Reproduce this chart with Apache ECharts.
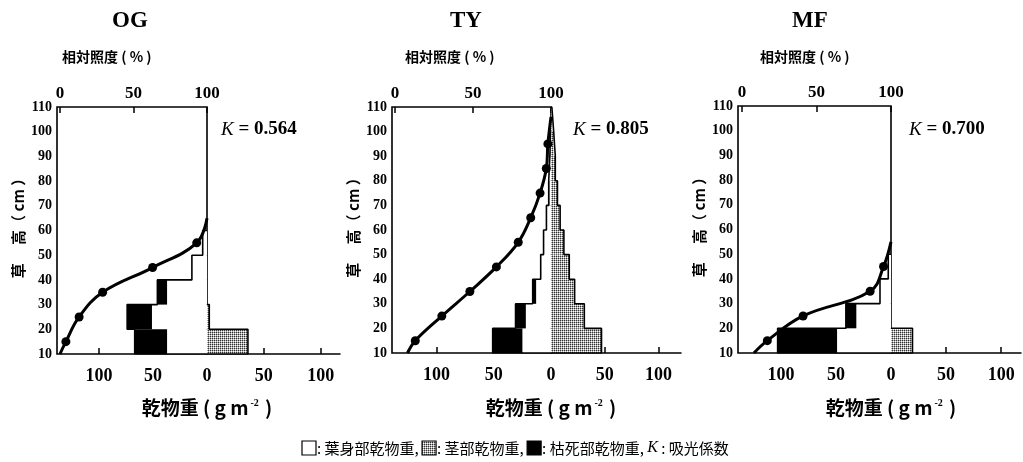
<!DOCTYPE html>
<html><head><meta charset="utf-8">
<script src="https://cdn.jsdelivr.net/npm/echarts@6/dist/echarts.min.js"></script>
<style>html,body{margin:0;padding:0;background:#fff}#c{width:1023px;height:462px}</style>
</head><body><div id="c"></div>
<script>
// ---------------- DATA ----------------
const layerBottom = [10, 20, 30, 40, 50, 60, 70, 80, 90, 100];   // cm
const layerTop    = [20, 30, 40, 50, 60, 70, 80, 90, 100, 110];  // cm
const layerNames  = ['10-20','20-30','30-40','40-50','50-60','60-70','70-80','80-90','90-100','100-110'];
const heightTicks = [10, 20, 30, 40, 50, 60, 70, 80, 90, 100, 110];
const weightTicks = [0, 50, 100];
const lightTicks  = [0, 50, 100];

const panelNames = ['OG', 'TY', 'MF'];
const kValues    = ['0.564', '0.805', '0.700'];

// OG (g m-2 per 10 cm layer)
const ogLeaf = [37, 51, 37, 14, 4, 0, 0, 0, 0, 0];
const ogDead = [30, 23, 9, 0, 0, 0, 0, 0, 0, 0];
const ogStem = [36, 2, 0, 0, 0, 0, 0, 0, 0, 0];
const ogLightPct = [0, 4, 13, 29, 63, 93, 100];
const ogLightCm  = [10, 15, 25, 35, 45, 55, 65];
const ogLightMeasured = [0, 1, 1, 1, 1, 1, 0];

// TY
const tyLeaf = [25, 22, 13, 9, 6.5, 4, 1.5, 1, 0.5, 0];
const tyDead = [26, 9, 3, 0, 0, 0, 0.5, 0, 0, 0];
const tyStem = [47, 31, 22, 17, 12, 8.5, 6, 4, 2.5, 0.8];
const tyLightPct = [8, 13, 30, 48, 65, 79, 87, 93, 97, 98, 100];
const tyLightCm  = [10, 15, 25, 35, 45, 55, 65, 75, 85, 95, 106];
const tyLightMeasured = [0, 1, 1, 1, 1, 1, 1, 1, 1, 1, 0];

// MF
const mfLeaf = [49, 31.5, 10, 2.5, 0, 0, 0, 0, 0, 0];
const mfDead = [54, 9.5, 0, 0, 0, 0, 0, 0, 0, 0];
const mfStem = [19.5, 0, 0, 0, 0, 0, 0, 0, 0, 0];
const mfLightPct = [8, 17, 41, 86, 95, 100];
const mfLightCm  = [10, 15, 25, 35, 45, 55];
const mfLightMeasured = [0, 1, 1, 1, 1, 0];

const PANEL_DATA = [
  {leaf: ogLeaf, dead: ogDead, stem: ogStem, pct: ogLightPct, cm: ogLightCm, meas: ogLightMeasured},
  {leaf: tyLeaf, dead: tyDead, stem: tyStem, pct: tyLightPct, cm: tyLightCm, meas: tyLightMeasured},
  {leaf: mfLeaf, dead: mfDead, stem: mfStem, pct: mfLightPct, cm: mfLightCm, meas: mfLightMeasured}
];

// ---------------- LAYOUT ----------------
const LAYOUT = [
  {boxLeft: 57,  zero: 207, end: 340,  top: 107, bottom: 354, leftMax: 139, rightMax: 117, light0: 60,  titleX: 130, lblX: 62,  kX: 221, nameX: 207},
  {boxLeft: 392, zero: 551, end: 681,  top: 107, bottom: 353, leftMax: 139, rightMax: 121, light0: 395, titleX: 466, lblX: 405, kX: 573, nameX: 551},
  {boxLeft: 738, zero: 891, end: 1021, top: 106, bottom: 353, leftMax: 139, rightMax: 118, light0: 742, titleX: 810, lblX: 760, kX: 909, nameX: 891}
];

const SERIF = '"Liberation Serif","Times New Roman",serif';
const CJK = '"Noto Sans CJK JP","Noto Sans CJK SC",sans-serif';

// stipple pattern for stem
const pat = document.createElement('canvas');
pat.width = 2; pat.height = 2;
(function () {
  const c = pat.getContext('2d');
  c.fillStyle = '#fff'; c.fillRect(0, 0, 2, 2);
  c.fillStyle = '#333'; c.fillRect(0, 0, 1, 1);
  c.fillStyle = '#aaa'; c.fillRect(1, 0, 1, 1); c.fillRect(0, 1, 1, 1);
})();
const stemFill = {image: pat, repeat: 'repeat'};

function outline(vals) {
  let last = vals.length - 1;
  while (last >= 0 && !(vals[last] > 0)) last--;
  const pts = [[0, layerBottom[0]]];
  for (let k = 0; k <= last; k++) {
    pts.push([vals[k], layerBottom[k]]);
    pts.push([vals[k], layerTop[k]]);
  }
  pts.push([0, layerTop[Math.max(last, 0)]]);
  return pts;
}
function sumArr(a, b) { return a.map((v, i) => v + b[i]); }

const grids = [], xAxes = [], yAxes = [], series = [], graphics = [];
const tickStyle = {color: '#000', width: 1.5};

panelNames.forEach((name, i) => {
  const L = LAYOUT[i], D = PANEL_DATA[i];
  const h = L.bottom - L.top;
  const gL = grids.length;
  grids.push({left: L.boxLeft, top: L.top, width: L.zero - L.boxLeft, height: h, show: true,
    borderColor: '#000', borderWidth: 1.6, backgroundColor: 'rgba(0,0,0,0)', outerBoundsMode: 'none', containLabel: false});
  grids.push({left: L.zero, top: L.top, width: L.end - L.zero, height: h, outerBoundsMode: 'none', containLabel: false});
  grids.push({left: L.light0, top: L.top, width: L.zero - L.light0, height: h, outerBoundsMode: 'none', containLabel: false});
  const gR = gL + 1, gLi = gL + 2;

  const xl = xAxes.length;
  xAxes.push({gridIndex: gL, type: 'value', min: 0, max: L.leftMax, inverse: true, interval: 50, position: 'bottom',
    axisLine: {show: false, onZero: false}, axisTick: {show: true, inside: true, length: 6, lineStyle: tickStyle},
    axisLabel: {showMaxLabel: false, margin: 13, color: '#000', fontFamily: SERIF, fontWeight: 'bold', fontSize: 18,
      formatter: v => (weightTicks.indexOf(v) >= 0 ? String(v) : '')},
    splitLine: {show: false}});
  xAxes.push({gridIndex: gR, type: 'value', min: 0, max: L.rightMax, interval: 50, position: 'bottom',
    axisLine: {show: true, onZero: false, lineStyle: tickStyle}, axisTick: {show: true, inside: true, length: 6, lineStyle: tickStyle},
    axisLabel: {showMinLabel: false, showMaxLabel: false, margin: 13, color: '#000', fontFamily: SERIF, fontWeight: 'bold', fontSize: 18,
      formatter: v => (weightTicks.indexOf(v) >= 0 ? String(v) : '')},
    splitLine: {show: false}});
  xAxes.push({gridIndex: gLi, type: 'value', min: 0, max: 100, interval: 50, position: 'top',
    axisLine: {show: false, onZero: false}, axisTick: {show: true, inside: true, length: 6, lineStyle: tickStyle},
    axisLabel: {margin: 5, color: '#000', fontFamily: SERIF, fontWeight: 'bold', fontSize: 17,
      formatter: v => (lightTicks.indexOf(v) >= 0 ? String(v) : '')},
    splitLine: {show: false}});

  const yl = yAxes.length;
  yAxes.push({gridIndex: gL, type: 'category', data: layerNames, show: false});
  yAxes.push({gridIndex: gL, type: 'value', position: 'left', min: heightTicks[0], max: heightTicks[heightTicks.length - 1], interval: 10,
    axisLine: {show: false, onZero: false}, axisTick: {show: false}, splitLine: {show: false},
    axisLabel: {margin: 5, color: '#000', fontFamily: SERIF, fontWeight: 'bold', fontSize: 14},
    name: '草　 高（ cm ）', nameLocation: 'middle', nameRotate: 90, nameGap: 31,
    nameTextStyle: {color: '#000', fontFamily: CJK, fontWeight: 'bold', fontSize: 15, padding: [0, 0, 0, 12]}});
  yAxes.push({gridIndex: gR, type: 'category', data: layerNames, show: false});
  yAxes.push({gridIndex: gR, type: 'value', min: 10, max: 110, show: false});
  yAxes.push({gridIndex: gLi, type: 'value', min: 10, max: 110, show: false});

  const stack = 'left' + i;
  series.push({type: 'bar', name: '葉身部乾物重', xAxisIndex: xl, yAxisIndex: yl, stack: stack, data: D.leaf,
    barWidth: '100%', barCategoryGap: '0%', itemStyle: {color: '#fff'}, silent: true, z: 2});
  series.push({type: 'bar', name: '枯死部乾物重', xAxisIndex: xl, yAxisIndex: yl, stack: stack, data: D.dead,
    barWidth: '100%', barCategoryGap: '0%', itemStyle: {color: '#000'}, silent: true, z: 2});
  series.push({type: 'line', xAxisIndex: xl, yAxisIndex: yl + 1, data: outline(sumArr(D.leaf, D.dead)),
    symbol: 'none', lineStyle: {color: '#000', width: 1.6}, silent: true, z: 3, animation: false});
  series.push({type: 'bar', name: '茎部乾物重', xAxisIndex: xl + 1, yAxisIndex: yl + 2, data: D.stem,
    barWidth: '100%', barCategoryGap: '0%', itemStyle: {color: stemFill}, silent: true, z: 2});
  series.push({type: 'line', xAxisIndex: xl + 1, yAxisIndex: yl + 3, data: outline(D.stem),
    symbol: 'none', lineStyle: {color: '#000', width: 1.6}, silent: true, z: 3, animation: false});
  series.push({type: 'line', xAxisIndex: xl + 2, yAxisIndex: yl + 4,
    data: D.pct.map((p, k) => ({value: [p, D.cm[k]], symbol: D.meas[k] ? 'circle' : 'none'})),
    smooth: 0.4, symbolSize: 9, showAllSymbol: true, itemStyle: {color: '#000'},
    lineStyle: {color: '#000', width: 3}, silent: true, z: 5, animation: false});

  // texts
  graphics.push({type: 'text', x: L.titleX, y: 21, style: {text: name, fill: '#000',
    font: 'bold 23px ' + SERIF, align: 'center', verticalAlign: 'middle'}});
  graphics.push({type: 'text', left: L.lblX, top: 50, style: {text: '相対照度 ( % )', fill: '#000',
    font: 'bold 14px ' + CJK}});
  graphics.push({type: 'text', left: L.kX, top: 120, style: {
    text: '{i|K}{b| = ' + kValues[i] + '}',
    rich: {i: {fontFamily: SERIF, fontStyle: 'italic', fontSize: 19, fill: '#000', fontWeight: 'normal'},
           b: {fontFamily: SERIF, fontWeight: 'bold', fontSize: 19, fill: '#000'}}}});
  graphics.push({type: 'text', x: L.nameX, y: 408, style: {
    text: '{a|乾物重 ( g m}{s|-2}{a| )}', align: 'center', verticalAlign: 'middle',
    rich: {a: {fontFamily: CJK, fontWeight: 'bold', fontSize: 19, fill: '#000', verticalAlign: 'middle'},
           s: {fontFamily: SERIF, fontWeight: 'bold', fontSize: 10, fill: '#000', verticalAlign: 'top', padding: [0, 2, 8, 2]}}}});
});

// legend at bottom
(function () {
  const font = '15px ' + CJK;
  const cv = document.createElement('canvas').getContext('2d');
  cv.font = font;
  const items = [
    {fill: '#fff', text: ': 葉身部乾物重, '},
    {fill: stemFill, text: ': 茎部乾物重, '},
    {fill: '#000', text: ': 枯死部乾物重, '}
  ];
  let x = 302; const yc = 448, sz = 14;
  items.forEach(it => {
    graphics.push({type: 'rect', shape: {x: x, y: yc - sz / 2, width: sz, height: sz},
      style: {fill: it.fill, stroke: '#000', lineWidth: 1.2}});
    x += sz + 1;
    graphics.push({type: 'text', x: x, y: yc, style: {text: it.text, font: font, fill: '#000', verticalAlign: 'middle'}});
    x += cv.measureText(it.text).width;
  });
  graphics.push({type: 'text', x: x, y: yc, style: {
    text: '{i|K}{a| : 吸光係数}', verticalAlign: 'middle',
    rich: {i: {fontFamily: SERIF, fontStyle: 'italic', fontSize: 16, fill: '#000'},
           a: {fontFamily: CJK, fontSize: 15, fill: '#000'}}}});
})();

const chart = echarts.init(document.getElementById('c'));
chart.setOption({
  animation: false,
  backgroundColor: '#fff',
  grid: grids, xAxis: xAxes, yAxis: yAxes, series: series, graphic: graphics
});
</script>
</body></html>
